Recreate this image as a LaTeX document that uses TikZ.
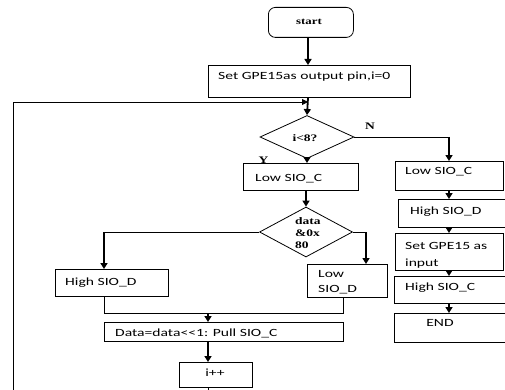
\documentclass[tikz,border=0pt]{standalone}
\usepackage{fontspec}
\usepackage{graphicx}
\setmainfont{Carlito}
\newfontfamily\serifb{Liberation Serif}
\usetikzlibrary{shapes.geometric,arrows.meta,calc}
\newcommand{\sx}[1]{\scalebox{1.42}[1]{#1}}
\newcommand{\bx}[1]{\scalebox{1.35}[1]{\serifb\bfseries #1}}
\begin{document}
\begin{tikzpicture}[x=1pt,y=-1pt,
  box/.style={draw,line width=0.8pt,inner sep=0,anchor=north west},
  dia/.style={draw,diamond,line width=0.8pt,inner sep=0},
  lbl/.style={anchor=base west,inner sep=0,font=\fontsize{11}{13}\selectfont},
  blbl/.style={anchor=base,inner sep=0,font=\fontsize{10}{12}\selectfont},
  arr/.style={line width=1.8pt,-{Triangle[length=6pt,width=7pt]}},
  thinline/.style={line width=0.8pt},
  thinarr/.style={line width=0.8pt,-{Triangle[length=6pt,width=6pt]}}]
\fill[white] (0,0) rectangle (505,390);
\useasboundingbox (0,0) rectangle (505,390);

% column coordinates
\coordinate (mx) at (308,0);
\coordinate (rx) at (449,0);

% nodes
\node[box,rounded corners=7pt,minimum width=85,minimum height=30] (start) at (268,7) {};
\node[box,minimum width=202,minimum height=32] (set) at (208,65) {};
\node[dia,minimum width=94,minimum height=43] (d1) at (307,137) {};
\node[box,minimum width=115,minimum height=27] (lowc) at (243,163) {};
\node[dia,minimum width=93,minimum height=50] (d2) at (306,232) {};
\node[box,minimum width=113,minimum height=27] (highd) at (55,269) {};
\node[box,minimum width=80,minimum height=33] (lowd) at (307,264) {};
\node[box,minimum width=239,minimum height=19] (data) at (104,322) {};
\node[box,minimum width=73,minimum height=25] (ipp) at (179,362) {};

\node[box,minimum width=108,minimum height=29] (rlowc) at (395,161) {};
\node[box,minimum width=110,minimum height=28] (rhighd) at (398,199) {};
\node[box,minimum width=108,minimum height=37] (rset) at (395,233) {};
\node[box,minimum width=114,minimum height=27] (rhighc) at (394,276) {};
\node[box,minimum width=114,minimum height=29] (rend) at (394,313) {};

% texts
\node[blbl,font=\fontsize{9.5}{11}\selectfont] (tstart) at (309,25) {\bx{start}};
\node[lbl] (tset) at (218,80) {\sx{Set GPE15as output pin,i=0}};
\node[blbl] (td1) at (305,142) {\bx{i<8?}};
\node[blbl] (tN) at (370,130) {\bx{N}};
\node[blbl] (tY) at (263.5,163) {\bx{Y}};
\node[lbl] (tlowc) at (255,181) {\sx{Low SIO\_C}};
\node[blbl,anchor=base west] (td2a) at (295,224) {\bx{data}};
\node[blbl,anchor=base west] (td2b) at (295,236) {\bx{\&0x}};
\node[blbl,anchor=base west] (td2c) at (295,248) {\bx{80}};
\node[lbl] (thighd) at (65,285) {\sx{High SIO\_D}};
\node[lbl] (tlowda) at (318,277) {\sx{Low}};
\node[lbl] (tlowdb) at (318,292) {\sx{SIO\_D}};
\node[lbl] (tdata) at (115,336) {\sx{Data=data<{}<1: Pull SIO\_C}};
\node[lbl,anchor=base] (tipp) at (215,376) {\sx{i++}};
\node[lbl] (trlowc) at (405,175) {\sx{Low SIO\_C}};
\node[lbl] (trhighd) at (410,214) {\sx{High SIO\_D}};
\node[lbl] (trseta) at (405,249) {\sx{Set GPE15 as}};
\node[lbl] (trsetb) at (405,266) {\sx{input}};
\node[lbl] (trhighc) at (405,290) {\sx{High SIO\_C}};
\node[lbl,anchor=base] (trend) at (440,326) {\sx{END}};

% connector helper coordinates
\coordinate (join) at (308,102);
\coordinate (nturn) at (449,137);
\coordinate (lturn) at (104,232);
\coordinate (rturn) at (366,232);
\coordinate (mleft) at (104,313);
\coordinate (mright) at (343,313);
\coordinate (mmid) at (208,313);
\coordinate (lx) at (208,0);

% main column
\draw[arr] (start.south -| mx) -- (set.north -| mx);
\draw[arr] (set.south -| mx) -- (d1.north);
\draw[arr] (d1.south) -- (d1.south |- lowc.north);
\draw[arr] (lowc.south -| d2.north) -- (d2.north);

% branch N
\draw[thinline] (d1.east) -- (nturn);
\draw[arr] (nturn) -- (rlowc.north -| rx);
\draw[arr] (rlowc.south -| rx) -- (rhighd.north -| rx);
\draw[arr] (rhighd.south -| rx) -- (rset.north -| rx);
\draw[arr] (rset.south -| rx) -- (rhighc.north -| rx);
\draw[arr] (rhighc.south -| rx) -- (rend.north -| rx);

% data branches
\draw[thinline] (d2.west) -- (lturn);
\draw[arr] (lturn) -- (highd.north -| lturn);
\draw[thinline] (d2.east) -- (rturn);
\draw[arr] (rturn) -- (lowd.north -| rturn);
\draw[thinline] (highd.south -| mleft) -- (mleft) -- (mright) -- (lowd.south -| mright);
\draw[arr] (mmid) -- (data.north -| mmid);
\draw[arr] (data.south -| lx) -- (ipp.north -| lx);

% loop back
\draw[thinarr] (ipp.south -| lx) -- (208,400) -- (13,400) -- (13,102) -- (join);
\end{tikzpicture}
\end{document}
